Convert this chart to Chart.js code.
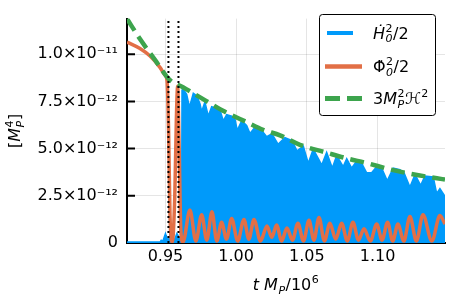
<!DOCTYPE html>
<html>
<head>
<meta charset="utf-8">
<script src="https://cdn.jsdelivr.net/npm/chart.js@4.4.0/dist/chart.umd.min.js"></script>
<style>
  html, body { margin: 0; padding: 0; background: #fff; }
  #wrap { width: 450px; height: 300px; }
</style>
</head>
<body>
<div id="wrap"><canvas id="chart"></canvas></div>
<script>
// --- datos (tiempo en unidades de 10^6 / M_P) ---
var xTicks = [0.95, 1.00, 1.05, 1.10];
var yTicks = [0, 2.5e-12, 5e-12, 7.5e-12, 1e-11];
var yTickLabels = ['0', '2.5×10⁻¹²', '5.0×10⁻¹²', '7.5×10⁻¹²', '1.0×10⁻¹¹'];
var vLines = [0.9521, 0.9592];

// 3 M_P^2 H^2
var tGreen = [0.9228, 0.9320, 0.9426, 0.9532, 0.9624, 0.9793, 0.9907, 1.0076, 1.0190,
              1.0310, 1.0451, 1.0642, 1.0783, 1.0925, 1.1088, 1.1250, 1.1420, 1.1477];
var green = [11.88e-12, 10.8e-12, 9.7e-12, 8.62e-12, 8.25e-12, 7.5e-12, 7.0e-12, 6.4e-12, 6.0e-12,
             5.7e-12, 5.2e-12, 4.78e-12, 4.48e-12, 4.23e-12, 3.9e-12, 3.64e-12, 3.43e-12, 3.36e-12];

// Phi_0'^2 / 2
var tOrange = [0.9228, 0.9320, 0.9391, 0.9461, 0.9496, 0.9511, 0.9522, 0.9532, 0.9548, 0.9566,
               0.9577, 0.9586, 0.9597, 0.9609, 0.9624,
               0.9673, 0.9715, 0.9756, 0.9792, 0.9829, 0.9863, 0.9897, 0.9932, 0.9968, 1.0011,
               1.0055, 1.0090, 1.0126, 1.0172, 1.0218, 1.0252, 1.0286, 1.0322, 1.0359, 1.0398,
               1.0437, 1.0476, 1.0515, 1.0550, 1.0586, 1.0624, 1.0663, 1.0704, 1.0746, 1.0786,
               1.0826, 1.0865, 1.0904, 1.0949, 1.0994, 1.1032, 1.1071, 1.1107, 1.1144, 1.1186,
               1.1229, 1.1275, 1.1321, 1.1384, 1.1441, 1.1477];
var orange = [10.64e-12, 10.3e-12, 9.9e-12, 9.3e-12, 8.9e-12, 8.6e-12, 6.0e-12, 1.5e-12, 0.05e-12, 2.5e-12,
              6.5e-12, 8.3e-12, 5.0e-12, 0.6e-12, 0.05e-12,
              1.75e-12, 0.1e-12, 1.5e-12, 0.15e-12, 1.65e-12, 0.1e-12, 1.1e-12, 0.2e-12, 1.3e-12, 0.1e-12,
              1.25e-12, 0.2e-12, 1.25e-12, 0.1e-12, 0.9e-12, 0.3e-12, 0.95e-12, 0.1e-12, 0.8e-12, 0.15e-12,
              1.05e-12, 0.1e-12, 1.2e-12, 0.15e-12, 1.35e-12, 0.1e-12, 1.05e-12, 0.2e-12, 1.05e-12, 0.1e-12,
              1.1e-12, 0.15e-12, 0.75e-12, 0.1e-12, 1.0e-12, 0.15e-12, 1.1e-12, 0.1e-12, 1.0e-12, 0.1e-12,
              1.4e-12, 0.1e-12, 1.5e-12, 0.1e-12, 1.45e-12, 1.0e-12];

// H_0'^2 / 2 (envolvente superior de la oscilacion rapida)
var tBlue = [0.9228, 0.9461, 0.9470, 0.9482, 0.9500, 0.9518, 0.9539, 0.9560, 0.9581, 0.9603, 0.9614,
             0.9617, 0.9627, 0.9650, 0.9670, 0.9697, 0.9721, 0.9744, 0.9756, 0.9779, 0.9803,
             0.9827, 0.9862, 0.9885, 0.9909, 0.9933, 0.9968, 0.9992, 1.0008, 1.0039, 1.0074,
             1.0098, 1.0133, 1.0180, 1.0216, 1.0253, 1.0296, 1.0345, 1.0395, 1.0430, 1.0475,
             1.0510, 1.0545, 1.0588, 1.0605, 1.0640, 1.0680, 1.0711, 1.0757, 1.0782, 1.0817,
             1.0852, 1.0888, 1.0923, 1.0958, 1.0994, 1.1029, 1.1069, 1.1111, 1.1158, 1.1187,
             1.1229, 1.1265, 1.1305, 1.1335, 1.1394, 1.1418, 1.1441, 1.1477];
var blue = [0.05e-12, 0.05e-12, 0.15e-12, 0.1e-12, 0.5e-12, 0.1e-12, 0.6e-12, 0.1e-12, 0.5e-12, 0.2e-12, 0.2e-12,
            8.1e-12, 8.13e-12, 7.88e-12, 7.2e-12, 7.93e-12, 7.8e-12, 7.38e-12, 6.97e-12, 7.47e-12, 6.72e-12,
            7.22e-12, 7.13e-12, 7.05e-12, 6.47e-12, 6.8e-12, 6.72e-12, 6.55e-12, 5.97e-12, 6.47e-12, 6.22e-12,
            5.8e-12, 6.13e-12, 5.97e-12, 5.63e-12, 5.78e-12, 5.23e-12, 5.58e-12, 5.43e-12, 4.88e-12, 5.13e-12,
            4.22e-12, 4.97e-12, 4.38e-12, 4.13e-12, 4.8e-12, 3.97e-12, 4.63e-12, 4.05e-12, 4.47e-12, 3.97e-12,
            4.33e-12, 4.22e-12, 3.72e-12, 3.72e-12, 4.05e-12, 3.97e-12, 3.3e-12, 3.97e-12, 3.88e-12, 3.72e-12,
            2.97e-12, 3.63e-12, 3.05e-12, 3.55e-12, 3.5e-12, 2.63e-12, 2.88e-12, 2.47e-12];

var X_MIN = 0.9228, X_MAX = 1.1477, Y_MAX = 1.1885e-11;

var BLUE = '#009AFA', ORANGE = '#E26F46', GREEN = '#3DA44D';
var FONT = 'DejaVu Sans';

function pts(xs, ys) {
    return xs.map(function (x, i) { return { x: x, y: ys[i] }; });
}

// texto con super/subindices: partes {t, it} o {sup, sub, it}
function richWidth(ctx, parts, size) {
    var w = 0;
    parts.forEach(function (p) {
        if (p.t !== undefined) {
            ctx.font = (p.it ? 'italic ' : '') + size + 'px ' + FONT;
            w += ctx.measureText(p.t).width;
        } else {
            ctx.font = (p.it ? 'italic ' : '') + Math.round(size * 0.7) + 'px ' + FONT;
            var a = p.sup ? ctx.measureText(p.sup).width : 0;
            var b = p.sub ? ctx.measureText(p.sub).width : 0;
            w += Math.max(a, b) + 1;
        }
    });
    return w;
}
function drawRich(ctx, parts, x, y, size) {
    ctx.textBaseline = 'alphabetic';
    ctx.textAlign = 'left';
    parts.forEach(function (p) {
        if (p.t !== undefined) {
            ctx.font = (p.it ? 'italic ' : '') + size + 'px ' + FONT;
            ctx.fillText(p.t, x, y);
            x += ctx.measureText(p.t).width;
        } else {
            ctx.font = (p.it ? 'italic ' : '') + Math.round(size * 0.7) + 'px ' + FONT;
            var a = 0, b = 0;
            if (p.sup) { ctx.fillText(p.sup, x + 0.5, y - size * 0.42); a = ctx.measureText(p.sup).width; }
            if (p.sub) { ctx.font = 'italic ' + Math.round(size * 0.7) + 'px ' + FONT;
                         ctx.fillText(p.sub, x + 0.5, y + size * 0.22); b = ctx.measureText(p.sub).width; }
            x += Math.max(a, b) + 1;
        }
    });
}

var decor = {
    id: 'decor',
    beforeDatasetsDraw: function (chart) {
        var ctx = chart.ctx, a = chart.chartArea, sx = chart.scales.x, sy = chart.scales.y;
        ctx.save();
        ctx.strokeStyle = '#000';
        ctx.lineWidth = 2;
        ctx.beginPath();
        yTicks.forEach(function (v) {
            var py = sy.getPixelForValue(v);
            ctx.moveTo(a.left, py); ctx.lineTo(a.left + 8, py);
        });
        xTicks.forEach(function (v) {
            var px = sx.getPixelForValue(v);
            ctx.moveTo(px, a.bottom); ctx.lineTo(px, a.bottom - 8);
        });
        ctx.stroke();
        ctx.restore();
    },
    afterDraw: function (chart) {
        var ctx = chart.ctx, a = chart.chartArea;
        ctx.save();
        ctx.fillStyle = '#000';

        // titulo eje x
        var xt = [{ t: 't', it: true }, { t: ' ' }, { t: 'M', it: true }, { sub: 'P' }, { t: '/10' }, { sup: '6' }];
        var w = richWidth(ctx, xt, 16);
        drawRich(ctx, xt, (a.left + a.right) / 2 - w / 2, 290, 16);

        // titulo eje y
        var yt = [{ t: '[' }, { t: 'M', it: true }, { sup: '4', sub: 'P' }, { t: ']' }];
        w = richWidth(ctx, yt, 16);
        ctx.translate(20, (a.top + a.bottom) / 2);
        ctx.rotate(-Math.PI / 2);
        drawRich(ctx, yt, -w / 2, 0, 16);
        ctx.restore();

        // leyenda
        ctx.save();
        ctx.fillStyle = '#fff';
        ctx.strokeStyle = '#000';
        ctx.lineWidth = 1;
        ctx.beginPath();
        ctx.roundRect(319.5, 14.5, 116, 101, 3);
        ctx.fill();
        ctx.stroke();

        var items = [
            { color: BLUE, x0: 327, x1: 353, lw: 4, dash: [], y: 33,
              parts: [{ t: 'Ḣ', it: true }, { sup: '2', sub: '0' }, { t: '/2' }] },
            { color: ORANGE, x0: 325, x1: 362, lw: 4.5, dash: [], y: 66.5,
              parts: [{ t: 'Φ̇' }, { sup: '2', sub: '0' }, { t: '/2' }] },
            { color: GREEN, x0: 325, x1: 362, lw: 5, dash: [15, 7], y: 98.5,
              parts: [{ t: '3' }, { t: 'M', it: true }, { sup: '2', sub: 'P' }, { t: 'ℋ', it: true }, { sup: '2' }] }
        ];
        items.forEach(function (it) {
            ctx.strokeStyle = it.color;
            ctx.lineWidth = it.lw;
            ctx.setLineDash(it.dash);
            ctx.beginPath();
            ctx.moveTo(it.x0, it.y); ctx.lineTo(it.x1, it.y);
            ctx.stroke();
            ctx.setLineDash([]);
            ctx.fillStyle = '#000';
            drawRich(ctx, it.parts, 373, it.y + 5.5, 16);
        });
        ctx.restore();
    }
};

var datasets = [
    {
        label: 'Ḣ₀²/2',
        data: pts(tBlue, blue),
        borderColor: BLUE,
        backgroundColor: BLUE,
        borderWidth: 1.5,
        fill: 'origin',
        tension: 0,
        order: 5
    },
    {
        label: 'Φ̇₀²/2',
        data: pts(tOrange, orange),
        borderColor: ORANGE,
        borderWidth: 3.5,
        fill: false,
        cubicInterpolationMode: 'monotone',
        order: 4
    },
    {
        label: '3Mₚ²ℋ²',
        data: pts(tGreen, green),
        borderColor: GREEN,
        borderWidth: 4.5,
        borderDash: [14, 7],
        fill: false,
        cubicInterpolationMode: 'monotone',
        order: 3
    }
];
vLines.forEach(function (t, i) {
    datasets.push({
        label: 'v' + i,
        data: [{ x: t, y: 0 }, { x: t, y: Y_MAX }],
        borderColor: '#000',
        borderWidth: 2,
        borderDash: [2, 3],
        fill: false,
        order: 1
    });
});

new Chart(document.getElementById('chart'), {
    type: 'line',
    data: { datasets: datasets },
    options: {
        responsive: true,
        maintainAspectRatio: false,
        animation: false,
        layout: { padding: { top: 4, right: 5, left: 0, bottom: 0 } },
        elements: { point: { radius: 0 } },
        plugins: { legend: { display: false }, tooltip: { enabled: false } },
        scales: {
            x: {
                type: 'linear',
                min: X_MIN,
                max: X_MAX,
                afterBuildTicks: function (s) { s.ticks = xTicks.map(function (v) { return { value: v }; }); },
                afterFit: function (s) { s.height = 57; },
                ticks: {
                    color: '#000',
                    font: { family: FONT, size: 16 },
                    padding: 4,
                    maxRotation: 0,
                    callback: function (v) { return v.toFixed(2); }
                },
                grid: { color: 'rgba(0,0,0,0.1)', lineWidth: 1, drawTicks: false },
                border: { color: '#000', width: 2 }
            },
            y: {
                min: 0,
                max: Y_MAX,
                afterBuildTicks: function (s) { s.ticks = yTicks.map(function (v) { return { value: v }; }); },
                afterFit: function (s) { s.width = 127; },
                ticks: {
                    color: '#000',
                    font: { family: FONT, size: 16 },
                    padding: 9,
                    callback: function (v, i) { return yTickLabels[i]; }
                },
                grid: { color: 'rgba(0,0,0,0.1)', lineWidth: 1, drawTicks: false },
                border: { color: '#000', width: 2 }
            }
        }
    },
    plugins: [decor]
});
</script>
</body>
</html>
